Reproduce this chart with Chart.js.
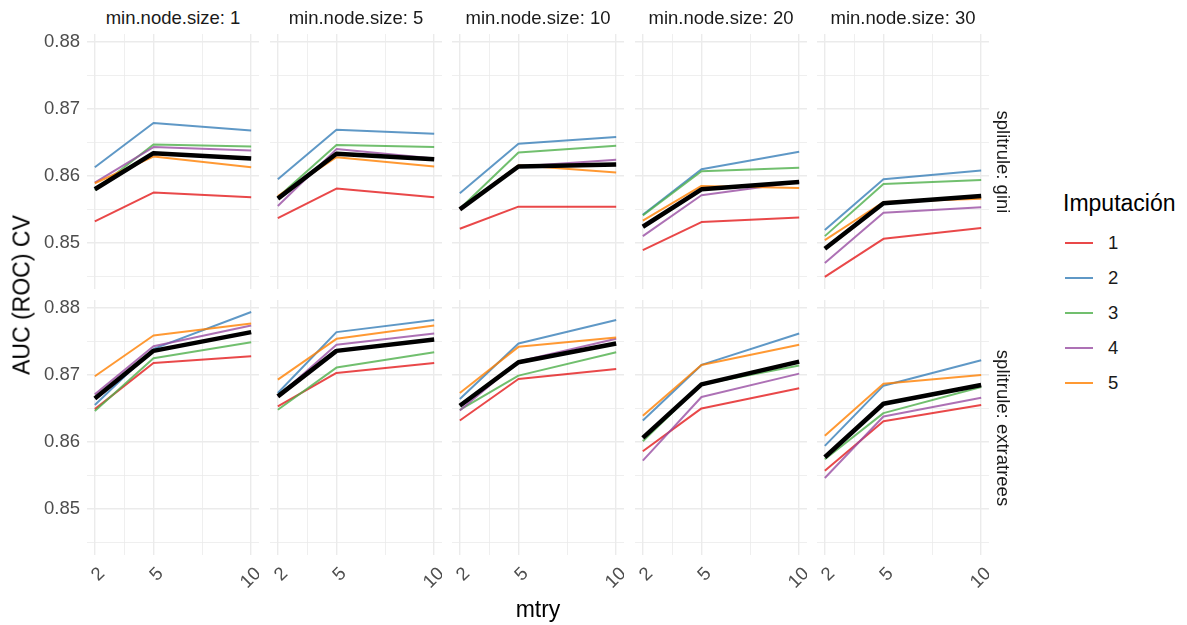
<!DOCTYPE html>
<html lang="es">
<head>
<meta charset="utf-8">
<title>AUC (ROC) CV según mtry</title>
<script src="https://cdn.jsdelivr.net/npm/chart.js@4.4.1/dist/chart.umd.min.js"></script>
<style>
  * { margin: 0; padding: 0; box-sizing: border-box; }
  body {
    width: 1187px;
    height: 625px;
    overflow: hidden;
    background: #ffffff;
    font-family: "Liberation Sans", Arial, sans-serif;
  }
  #fig { position: relative; width: 1187px; height: 625px; }
  #fig canvas { position: absolute; }
  .lbl {
    position: absolute;
    white-space: nowrap;
    line-height: 1;
  }
  .strip { font-size: 18.5px; color: #1a1a1a; }
  .title { font-size: 23px; color: #000000; }
  .key { position: absolute; height: 2.5px; width: 28px; }
  .keytxt { font-size: 18.5px; color: #1a1a1a; }
</style>
</head>
<body>
<div id="fig"></div>
<script>
  const mtry = [2, 5, 10];
  const nodeSizes = [1, 5, 10, 20, 30];
  const splitRules = ["gini", "extratrees"];
  const imputations = ["1", "2", "3", "4", "5"];
  const impColors = [
    "rgba(228,26,28,0.8)",
    "rgba(55,126,184,0.8)",
    "rgba(77,175,74,0.8)",
    "rgba(152,78,163,0.8)",
    "rgba(255,127,0,0.8)",
  ];
  const yTicks = [0.845, 0.85, 0.855, 0.86, 0.865, 0.87, 0.875, 0.88];
  const xTicks = [2, 3.5, 5, 7.5, 10];

  // one row per min.node.size, values at mtry = 2, 5, 10
  const giniImp1 = [[0.8532, 0.8575, 0.8568], [0.8537, 0.8581, 0.8568], [0.8521, 0.8554, 0.8554], [0.8489, 0.8531, 0.8538], [0.8449, 0.8506, 0.8522]];
  const giniImp2 = [[0.8613, 0.8679, 0.8668], [0.8595, 0.8669, 0.8663], [0.8574, 0.8648, 0.8658], [0.8542, 0.861, 0.8636], [0.8519, 0.8595, 0.8608]];
  const giniImp3 = [[0.8579, 0.8647, 0.8644], [0.8568, 0.8646, 0.8643], [0.8551, 0.8635, 0.8645], [0.8541, 0.8607, 0.8612], [0.851, 0.8588, 0.8594]];
  const giniImp4 = [[0.859, 0.8643, 0.8638], [0.8555, 0.864, 0.8626], [0.855, 0.8614, 0.8624], [0.851, 0.8571, 0.8591], [0.847, 0.8545, 0.8553]];
  const giniImp5 = [[0.8589, 0.8629, 0.8613], [0.857, 0.8628, 0.8614], [0.8551, 0.8616, 0.8605], [0.8533, 0.8585, 0.8582], [0.8504, 0.8561, 0.8566]];
  const giniMean = [[0.858, 0.8634, 0.8626], [0.8566, 0.8633, 0.8625], [0.855, 0.8614, 0.8617], [0.8524, 0.858, 0.8591], [0.8491, 0.8559, 0.857]];

  const extraImp1 = [[0.8649, 0.8718, 0.8728], [0.8653, 0.8703, 0.8718], [0.8632, 0.8694, 0.8709], [0.8586, 0.865, 0.868], [0.8557, 0.8631, 0.8655]];
  const extraImp2 = [[0.8655, 0.8739, 0.8794], [0.8673, 0.8764, 0.8782], [0.8664, 0.8747, 0.8782], [0.8632, 0.8715, 0.8762], [0.8594, 0.8684, 0.8722]];
  const extraImp3 = [[0.8646, 0.8725, 0.8749], [0.8648, 0.8711, 0.8734], [0.8648, 0.8699, 0.8734], [0.8601, 0.8686, 0.8714], [0.8574, 0.8643, 0.8682]];
  const extraImp4 = [[0.8671, 0.8743, 0.8774], [0.8668, 0.8745, 0.8762], [0.8647, 0.872, 0.8754], [0.8572, 0.8667, 0.8702], [0.8546, 0.8638, 0.8666]];
  const extraImp5 = [[0.8698, 0.8759, 0.8777], [0.8693, 0.8754, 0.8774], [0.8673, 0.8742, 0.8756], [0.8639, 0.8715, 0.8745], [0.8609, 0.8687, 0.87]];
  const extraMean = [[0.8665, 0.8736, 0.8764], [0.8668, 0.8736, 0.8753], [0.8654, 0.8719, 0.8747], [0.8606, 0.8686, 0.872], [0.8577, 0.8657, 0.8685]];

  const impByRule = [
    [giniImp1, giniImp2, giniImp3, giniImp4, giniImp5],
    [extraImp1, extraImp2, extraImp3, extraImp4, extraImp5],
  ];
  const meanByRule = [giniMean, extraMean];

  // panel grid geometry
  const panelX = [87, 270, 452, 635, 817];
  const panelY = [34, 300];
  const panelW = 172;
  const panelH = 255;
  const axisW = 90;
  const axisH = 60;

  Chart.defaults.font.family = '"Liberation Sans", Arial, sans-serif';

  const fig = document.getElementById("fig");
  const isMajorY = (v) => Math.abs(v * 100 - Math.round(v * 100)) < 1e-6;
  const isMajorX = (v) => mtry.includes(v);
  const toPoints = (vals) => vals.map((v, i) => ({ x: mtry[i], y: v }));

  function addLabel(text, x, y, cls, rot) {
    const d = document.createElement("div");
    d.className = "lbl " + cls;
    d.textContent = text;
    d.style.left = x + "px";
    d.style.top = y + "px";
    d.style.transform = "translate(-50%, -50%)" + (rot ? " rotate(" + rot + "deg)" : "");
    fig.appendChild(d);
  }

  splitRules.forEach((rule, r) => {
    nodeSizes.forEach((ns, c) => {
      const canvas = document.createElement("canvas");
      canvas.width = axisW + panelW;
      canvas.height = panelH + axisH;
      canvas.style.left = panelX[c] - axisW + "px";
      canvas.style.top = panelY[r] + "px";
      canvas.style.width = canvas.width + "px";
      canvas.style.height = canvas.height + "px";
      fig.appendChild(canvas);

      // mean line first so it is painted on top
      const datasets = [{
        data: toPoints(meanByRule[r][c]),
        borderColor: "#000000",
        borderWidth: 4.5,
      }];
      for (let k = imputations.length - 1; k >= 0; k--) {
        datasets.push({
          label: imputations[k],
          data: toPoints(impByRule[r][k][c]),
          borderColor: impColors[k],
          borderWidth: 2,
        });
      }

      new Chart(canvas, {
        type: "line",
        data: { datasets: datasets },
        options: {
          responsive: false,
          devicePixelRatio: 1,
          animation: false,
          events: [],
          layout: { padding: 0 },
          elements: {
            point: { radius: 0 },
            line: { tension: 0, borderCapStyle: "butt", borderJoinStyle: "round" },
          },
          plugins: { legend: { display: false }, tooltip: { enabled: false } },
          scales: {
            x: {
              type: "linear",
              min: 1.6,
              max: 10.4,
              afterBuildTicks: (s) => { s.ticks = xTicks.map((v) => ({ value: v })); },
              afterFit: (s) => {
                s.height = axisH;
                s.paddingLeft = s.paddingRight = s.paddingTop = s.paddingBottom = 0;
              },
              border: { display: false },
              grid: {
                color: "#ebebeb",
                drawTicks: false,
                lineWidth: (ctx) => (ctx.tick && isMajorX(ctx.tick.value) ? 1.4 : 0.8),
              },
              ticks: {
                display: r === 1,
                autoSkip: false,
                minRotation: 45,
                maxRotation: 45,
                padding: 8,
                labelOffset: 7,
                color: "#4d4d4d",
                font: { size: 18.5 },
                callback: (v) => (isMajorX(v) ? String(v) : ""),
              },
            },
            y: {
              type: "linear",
              min: 0.8431,
              max: 0.8812,
              afterBuildTicks: (s) => { s.ticks = yTicks.map((v) => ({ value: v })); },
              afterFit: (s) => {
                s.width = axisW;
                s.paddingLeft = s.paddingRight = s.paddingTop = s.paddingBottom = 0;
              },
              border: { display: false },
              grid: {
                color: "#ebebeb",
                drawTicks: false,
                lineWidth: (ctx) => (ctx.tick && isMajorY(ctx.tick.value) ? 1.4 : 0.8),
              },
              ticks: {
                display: c === 0,
                autoSkip: false,
                padding: 7,
                color: "#4d4d4d",
                font: { size: 18.5 },
                callback: (v) => (isMajorY(v) ? v.toFixed(2) : ""),
              },
            },
          },
        },
      });
    });
  });

  // facet strips
  nodeSizes.forEach((ns, c) => {
    addLabel("min.node.size: " + ns, panelX[c] + panelW / 2, 18, "strip");
  });
  splitRules.forEach((rule, r) => {
    addLabel("splitrule: " + rule, 1003, panelY[r] + panelH / 2, "strip", 90);
  });

  // axis titles
  addLabel("AUC (ROC) CV", 22, 295, "title", -90);
  addLabel("mtry", 538, 609, "title");

  // legend
  const legTitle = document.createElement("div");
  legTitle.className = "lbl title";
  legTitle.textContent = "Imputación";
  legTitle.style.left = "1063px";
  legTitle.style.top = "192px";
  fig.appendChild(legTitle);
  imputations.forEach((imp, k) => {
    const yc = 243 + k * 35;
    const key = document.createElement("div");
    key.className = "key";
    key.style.left = "1065px";
    key.style.top = yc - 1.25 + "px";
    key.style.background = impColors[k];
    fig.appendChild(key);
    const t = document.createElement("div");
    t.className = "lbl keytxt";
    t.textContent = imp;
    t.style.left = "1108px";
    t.style.top = yc - 9 + "px";
    fig.appendChild(t);
  });
</script>
</body>
</html>
